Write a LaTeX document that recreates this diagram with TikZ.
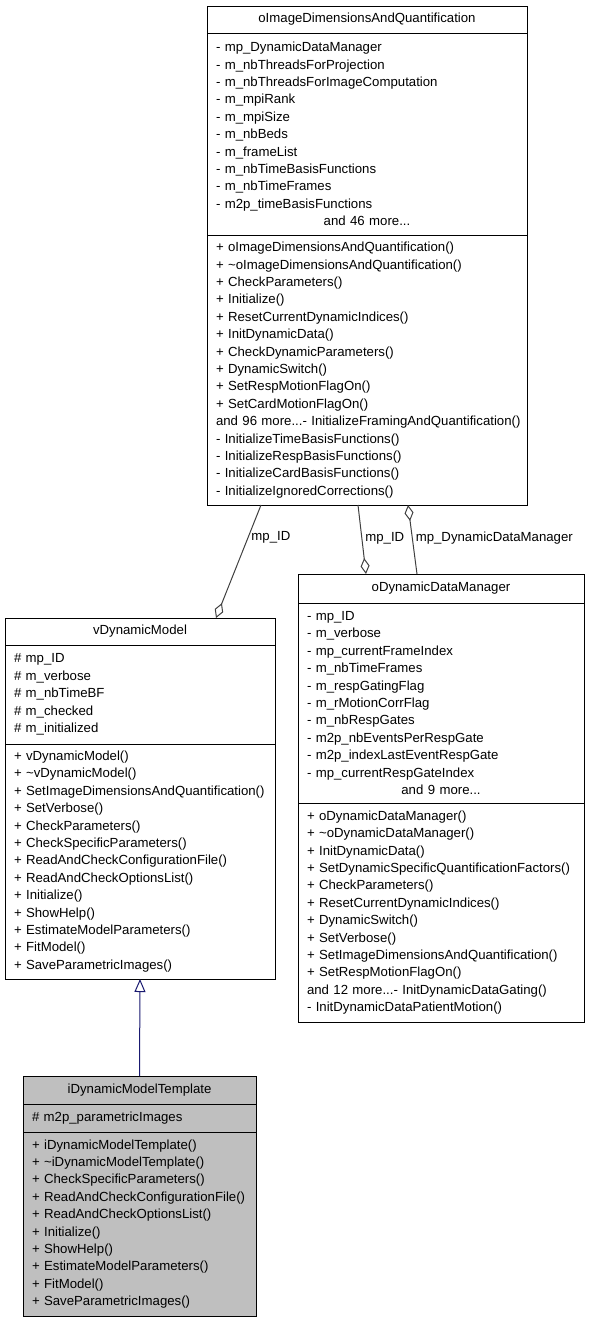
\documentclass[tikz,border=0pt]{standalone}
\usepackage{fontspec}
\setmainfont{Liberation Sans}
\usetikzlibrary{arrows.meta, positioning, calc}
\definecolor{edgegray}{HTML}{404040}
\definecolor{inheritblue}{HTML}{191970}
\definecolor{classgray}{HTML}{BFBFBF}
\newcommand{\classfont}{\fontsize{13.2}{17.4}\selectfont}
\newcommand{\andmore}[1]{\makebox[\hsize][c]{#1}}

\begin{document}
\begin{tikzpicture}[x=1pt, y=-1pt,
    classhead/.style={draw, line width=1pt, outer sep=0pt, inner xsep=9pt, inner ysep=0pt, align=center, font=\classfont},
    classpart/.style={classhead, align=left},
    aggregation/.style={draw=edgegray, line width=1pt, -{Diamond[open, length=16pt, width=9pt]}},
    inherit/.style={draw=inheritblue, line width=1pt, -{Triangle[open, length=13pt, width=11pt]}},
    edgelabel/.style={font=\classfont, anchor=west, inner sep=3pt}]
    \useasboundingbox (0,0) rectangle (589,1323);
    \node[classhead, text width=302pt, minimum height=27pt, anchor=north west] at (207,6) (dimquant) {oImageDimensionsAndQuantification};
    \node[classpart, text width=302pt, minimum height=202pt, below=0pt of dimquant] (dimquantA) {- mp\_DynamicDataManager\\- m\_nbThreadsForProjection\\- m\_nbThreadsForImageComputation\\- m\_mpiRank\\- m\_mpiSize\\- m\_nbBeds\\- m\_frameList\\- m\_nbTimeBasisFunctions\\- m\_nbTimeFrames\\- m2p\_timeBasisFunctions\\\andmore{and 46 more...}};
    \node[classpart, text width=302pt, minimum height=270pt, below=0pt of dimquantA] (dimquantM) {+ oImageDimensionsAndQuantification()\\+ \textasciitilde oImageDimensionsAndQuantification()\\+ CheckParameters()\\+ Initialize()\\+ ResetCurrentDynamicIndices()\\+ InitDynamicData()\\+ CheckDynamicParameters()\\+ DynamicSwitch()\\+ SetRespMotionFlagOn()\\+ SetCardMotionFlagOn()\\\mbox{and 96 more...- InitializeFramingAndQuantification()}\\- InitializeTimeBasisFunctions()\\- InitializeRespBasisFunctions()\\- InitializeCardBasisFunctions()\\- InitializeIgnoredCorrections()};

    \node[classhead, text width=252pt, minimum height=27pt, anchor=north west] at (5,618) (dynmodel) {vDynamicModel};
    \node[classpart, text width=252pt, minimum height=99pt, below=0pt of dynmodel] (dynmodelA) {\# mp\_ID\\\# m\_verbose\\\# m\_nbTimeBF\\\# m\_checked\\\# m\_initialized};
    \node[classpart, text width=252pt, minimum height=235pt, below=0pt of dynmodelA] (dynmodelM) {+ vDynamicModel()\\+ \textasciitilde vDynamicModel()\\+ SetImageDimensionsAndQuantification()\\+ SetVerbose()\\+ CheckParameters()\\+ CheckSpecificParameters()\\+ ReadAndCheckConfigurationFile()\\+ ReadAndCheckOptionsList()\\+ Initialize()\\+ ShowHelp()\\+ EstimateModelParameters()\\+ FitModel()\\+ SaveParametricImages()};

    \node[classhead, text width=268pt, minimum height=29pt, anchor=north west] at (298,574) (datamgr) {oDynamicDataManager};
    \node[classpart, text width=268pt, minimum height=200pt, below=0pt of datamgr] (datamgrA) {- mp\_ID\\- m\_verbose\\- mp\_currentFrameIndex\\- m\_nbTimeFrames\\- m\_respGatingFlag\\- m\_rMotionCorrFlag\\- m\_nbRespGates\\- m2p\_nbEventsPerRespGate\\- m2p\_indexLastEventRespGate\\- mp\_currentRespGateIndex\\\andmore{and 9 more...}};
    \node[classpart, text width=268pt, minimum height=219pt, below=0pt of datamgrA] (datamgrM) {+ oDynamicDataManager()\\+ \textasciitilde oDynamicDataManager()\\+ InitDynamicData()\\+ \mbox{SetDynamicSpecificQuantificationFactors()}\\+ CheckParameters()\\+ ResetCurrentDynamicIndices()\\+ DynamicSwitch()\\+ SetVerbose()\\+ SetImageDimensionsAndQuantification()\\+ SetRespMotionFlagOn()\\\mbox{and 12 more...- InitDynamicDataGating()}\\- InitDynamicDataPatientMotion()};

    \node[classhead, fill=classgray, text width=215pt, minimum height=28pt, anchor=north west] at (23,1076) (template) {iDynamicModelTemplate};
    \node[classpart, fill=classgray, text width=215pt, minimum height=28pt, below=0pt of template] (templateA) {\# m2p\_parametricImages};
    \node[classpart, fill=classgray, text width=215pt, minimum height=184pt, below=0pt of templateA] (templateM) {+ iDynamicModelTemplate()\\+ \textasciitilde iDynamicModelTemplate()\\+ CheckSpecificParameters()\\+ ReadAndCheckConfigurationFile()\\+ ReadAndCheckOptionsList()\\+ Initialize()\\+ ShowHelp()\\+ EstimateModelParameters()\\+ FitModel()\\+ SaveParametricImages()};

    \draw[aggregation] ([xshift=54pt]dimquantM.south west) -- node[edgelabel, pos=0.29] {mp\_ID} ([xshift=211pt]dynmodel.north west);
    \draw[aggregation] ([xshift=151pt]dimquantM.south west) -- node[edgelabel, pos=0.48] {mp\_ID} ([xshift=68pt]datamgr.north west);
    \draw[aggregation] ([xshift=119pt]datamgr.north west) -- node[edgelabel, pos=0.52] {mp\_DynamicDataManager} ([xshift=201pt]dimquantM.south west);
    \draw[inherit] (template.north) -- (dynmodelM.south);
\end{tikzpicture}
\end{document}
